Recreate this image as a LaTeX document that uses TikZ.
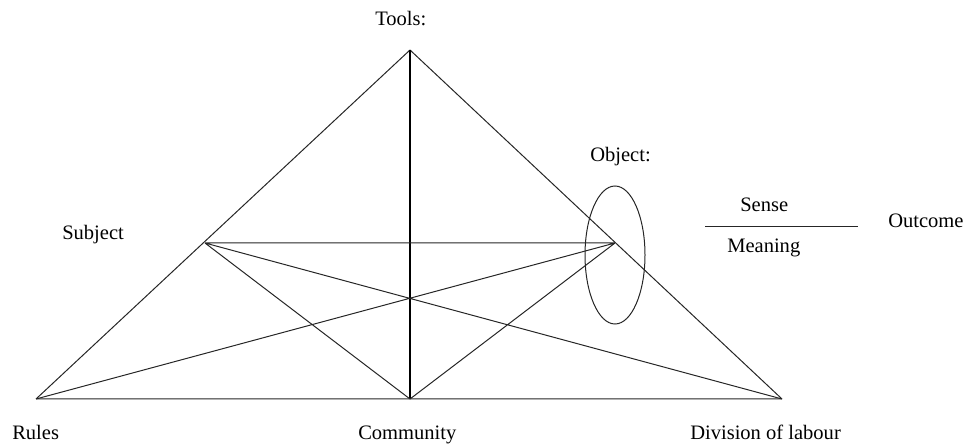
\documentclass[tikz,border=0pt]{standalone}
\usepackage{fontspec}
\setmainfont{Liberation Serif}
\usetikzlibrary{shapes.geometric}

\begin{document}
\begin{tikzpicture}[x=0.75pt,y=-0.75pt,
          lbl/.style={anchor=base west,inner sep=0pt,
                      font=\fontsize{15.4}{18}\selectfont},
          edge/.style={black!85,line width=0.75pt},
        ]
        \useasboundingbox (0,0) rectangle (968,445);
        % TRIANGLE
        \coordinate (tools)  at (410,50);
        \coordinate (rules)  at (36,399);
        \coordinate (comm)   at (410,399);
        \coordinate (divlab) at (782,399);
        \coordinate (subj)   at (205,243);
        \coordinate (obj)    at (615,243);
        \draw[edge](tools)--(rules)(tools)--(divlab)(rules)--(divlab);
        \draw[edge,black,line width=1pt](tools)--(comm);
        \draw[edge](subj)--(obj)(subj)--(comm)(subj)--(divlab)(rules)--(obj)(obj)--(comm);
        \node[draw,edge,ellipse,minimum width=45pt,minimum height=103.5pt,inner sep=0pt]
          (objring) at (615,255){};

        % LABELS
        \node[lbl](ltools) at (375,26){Tools:};
        \node[lbl](lsubj)  at (62,240){Subject};
        \node[lbl](lobj)   at (590,162){Object:};
        \node[lbl](lrules) at (12,439){Rules};
        \node[lbl](lcomm)  at (358,439){Community};
        \node[lbl](ldiv)   at (690,439){Division of labour};

        % OUTCOME
        \coordinate (fracl) at (705,227);
        \coordinate (fracr) at (858,227);
        \draw[edge](fracl)--(fracr);
        \node[lbl](lsense) at (740,212){Sense};
        \node[lbl](lmean)  at (727,253){Meaning};
        \node[lbl](lout)   at (888,228){Outcome};
      \end{tikzpicture}
\end{document}
